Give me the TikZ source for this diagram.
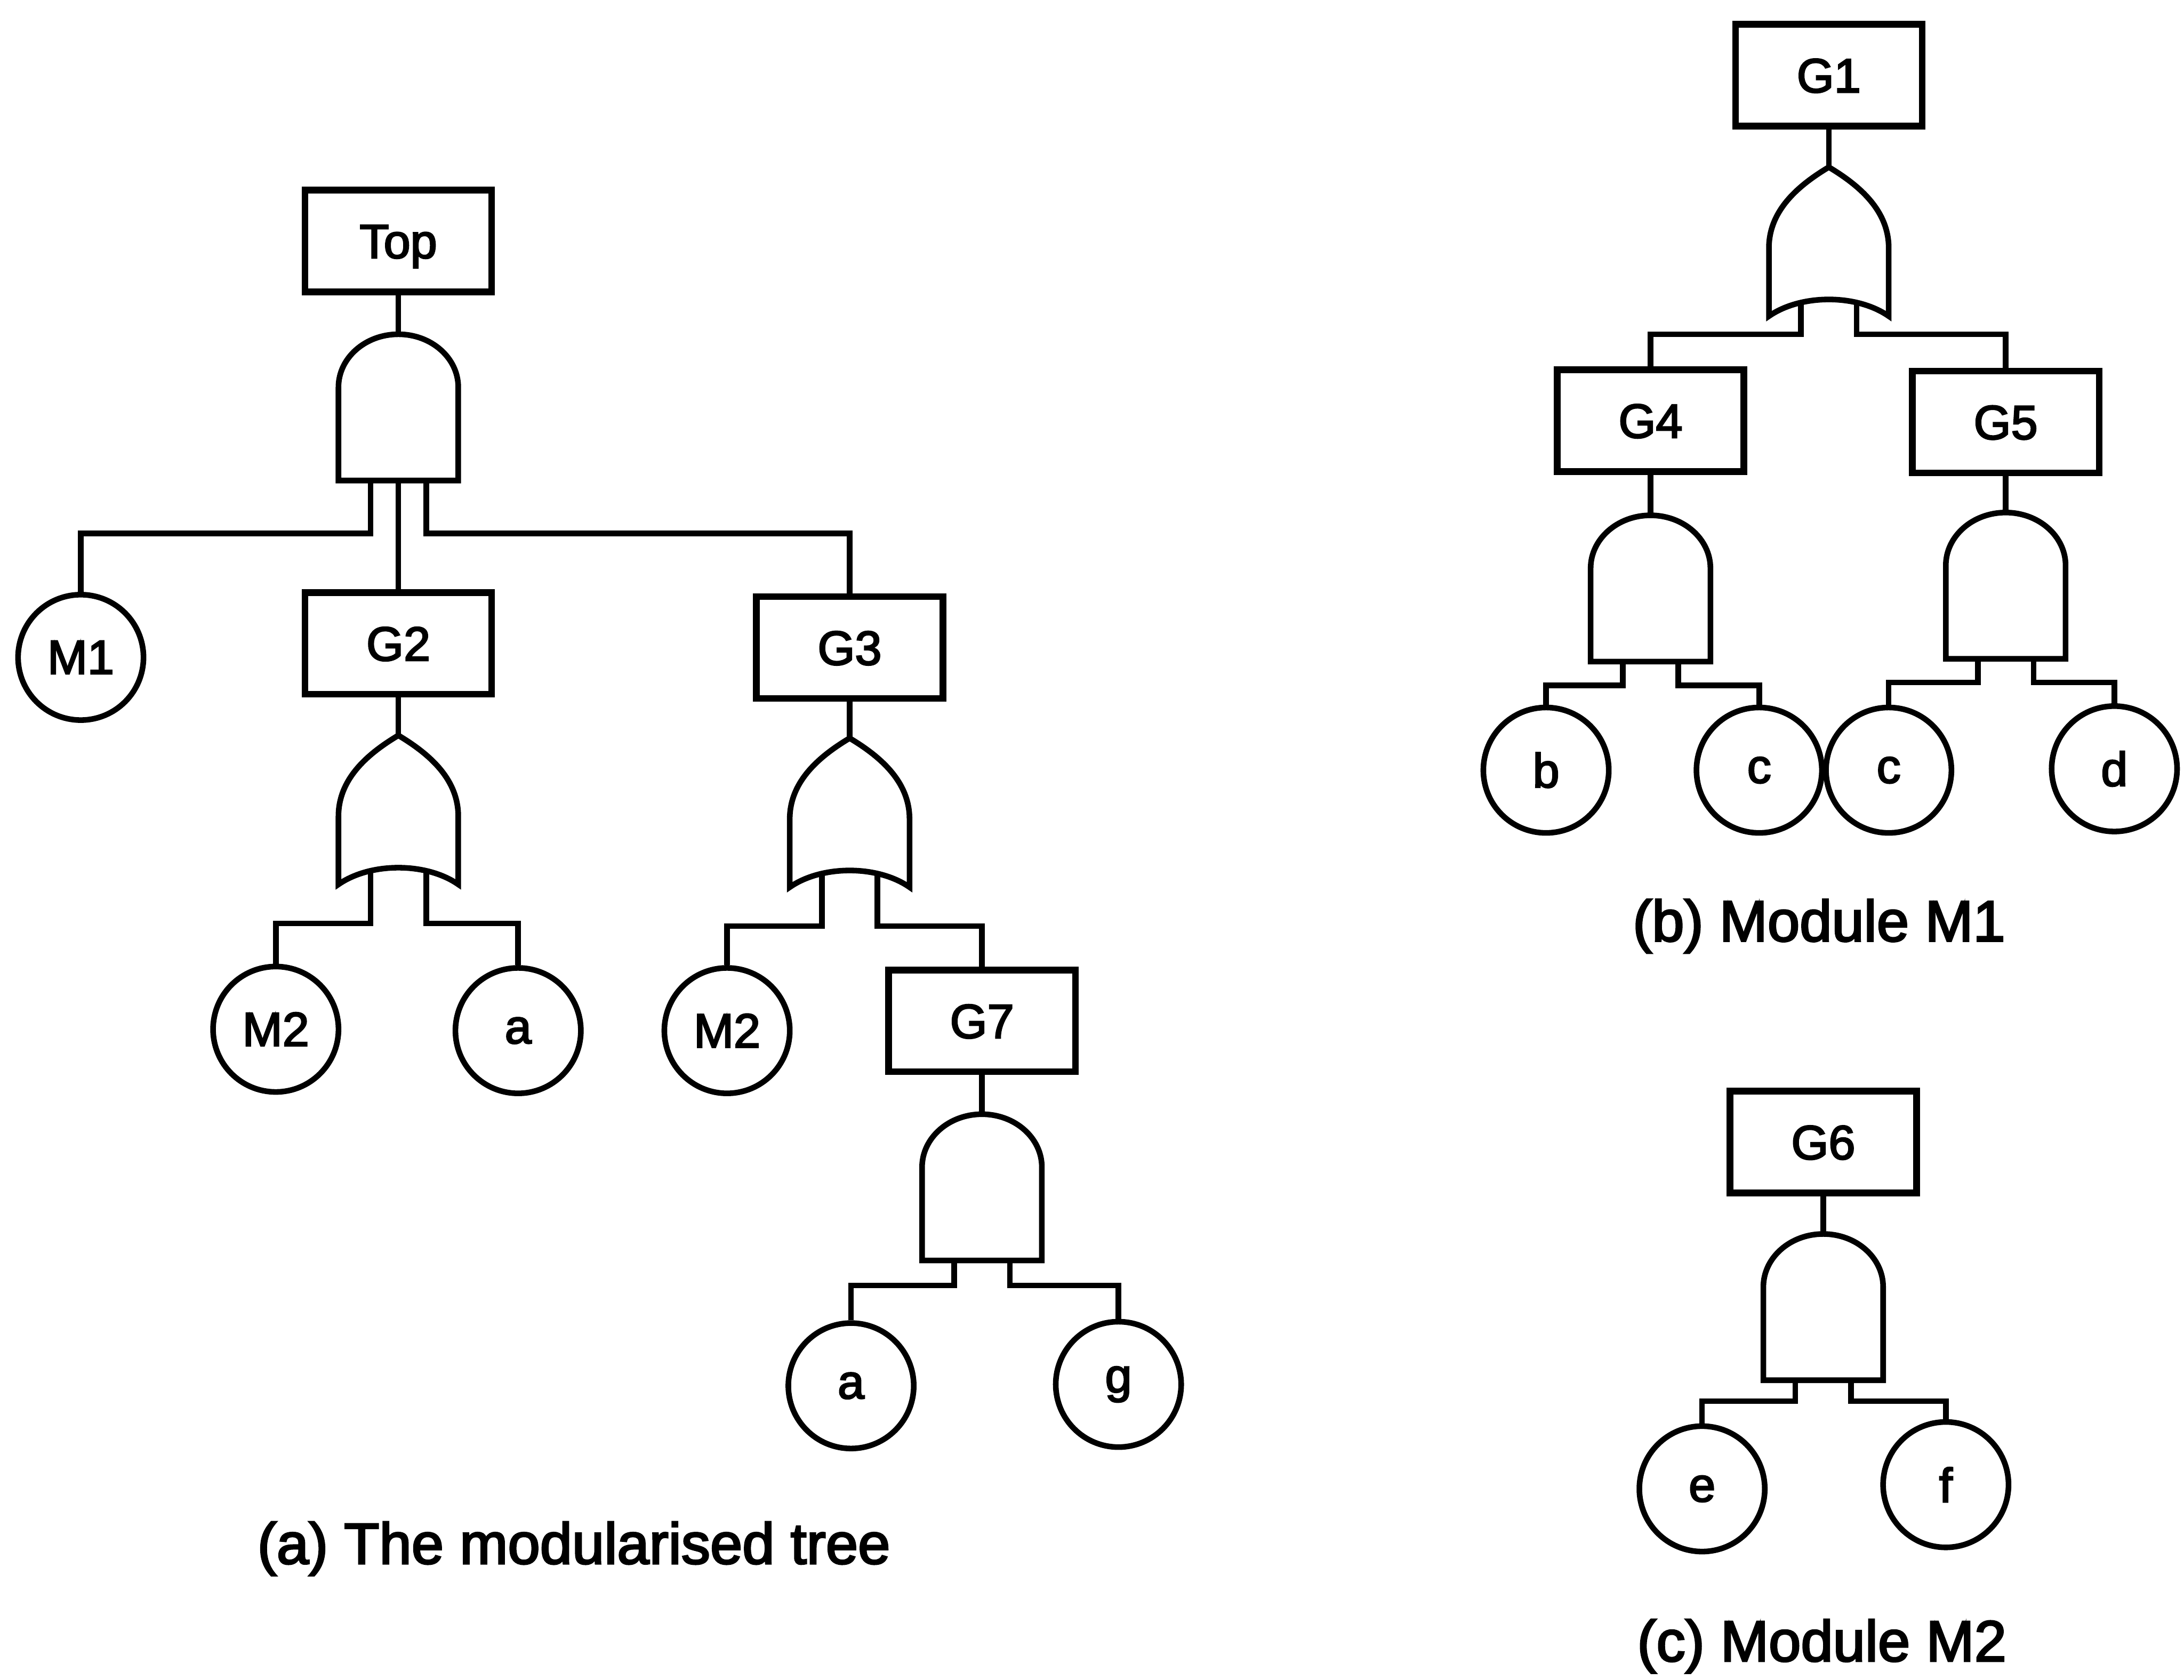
\documentclass[tikz,border=0pt]{standalone}
\usepackage{fontspec}
\setmainfont{Liberation Sans}
\newfontfamily\lblfont[FakeBold=3]{Liberation Sans}
\begin{document}
\begin{tikzpicture}[x=0.01cm,y=-0.01cm,
  wire/.style={line width=1.15pt},
  eventbox/.style={draw, rectangle, line width=1.35pt, minimum width=1.34cm,
    minimum height=0.73cm, inner sep=0pt, text height=7pt, text depth=0pt,
    font=\lblfont\fontsize{9.8}{11}\selectfont},
  basic/.style={draw, circle, line width=1.15pt, minimum size=0.9cm,
    inner sep=0pt, font=\lblfont\fontsize{9.8}{11}\selectfont},
  caption/.style={font=\lblfont\fontsize{11.8}{14}\selectfont},
  andgate/.pic={
    \draw[wire] (-43,105) -- (-43,38) .. controls (-43,17) and (-23.7,0) .. (0,0)
      .. controls (23.7,0) and (43,17) .. (43,38) -- (43,105) -- cycle;
    \coordinate (-in) at (0,0);
    \coordinate (-l) at (-20,105);
    \coordinate (-m) at (0,105);
    \coordinate (-r) at (20,105);
  },
  orgate/.pic={
    \draw[wire] (-43,107) -- (-43,58) .. controls (-43,30) and (-20,12) .. (0,0)
      .. controls (20,12) and (43,30) .. (43,58) -- (43,107)
      .. controls (20,91) and (-20,91) .. (-43,107) -- cycle;
    \coordinate (-in) at (0,0);
    \coordinate (-l) at (-20,97);
    \coordinate (-r) at (20,97);
  }
]
\useasboundingbox (0,0) rectangle (1568,1206);

% ---------- (a) the modularised tree ----------
\node[eventbox] (top) at (286,173) {Top};
\pic (gT) at (286,240) {andgate};
\node[basic] (m1) at (58,472) {M1};
\node[eventbox] (g2) at (286,462) {G2};
\node[eventbox] (g3) at (610,465) {G3};
\pic (o2) at (286,528) {orgate};
\node[basic] (m2a) at (198,739) {M2};
\node[basic] (a1) at (372,740) {a};
\pic (o3) at (610,530) {orgate};
\node[basic] (m2b) at (522,740) {M2};
\node[eventbox] (g7) at (705,733) {G7};
\pic (a7) at (705,800) {andgate};
\node[basic] (a2) at (611,995) {a};
\node[basic] (gg) at (803,994) {g};

\draw[wire] (top.south) -- (gT-in);
\draw[wire] (gT-l) -- ++(0,38) -| (m1.north);
\draw[wire] (gT-m) -- (g2.north);
\draw[wire] (gT-r) -- ++(0,38) -| (g3.north);
\draw[wire] (g2.south) -- (o2-in);
\draw[wire] (o2-l) -- ++(0,38) -| (m2a.north);
\draw[wire] (o2-r) -- ++(0,38) -| (a1.north);
\draw[wire] (g3.south) -- (o3-in);
\draw[wire] (o3-l) -- ++(0,38) -| (m2b.north);
\draw[wire] (o3-r) -- ++(0,38) -| (g7.north);
\draw[wire] (g7.south) -- (a7-in);
\draw[wire] (a7-l) -- ++(0,18) -| (a2.north);
\draw[wire] (a7-r) -- ++(0,18) -| (gg.north);

\node[caption] (capa) at (412,1112) {(a) The modularised tree};

% ---------- (b) module M1 ----------
\node[eventbox] (g1) at (1313,54) {G1};
\pic (o1) at (1313,120) {orgate};
\node[eventbox] (g4) at (1185,302) {G4};
\node[eventbox] (g5) at (1440,303) {G5};
\pic (a4) at (1185,370) {andgate};
\pic (a5) at (1440,368) {andgate};
\node[basic] (b) at (1110,553) {b};
\node[basic] (c1) at (1263,553) {c};
\node[basic] (c2) at (1356,553) {c};
\node[basic] (d) at (1518,552) {d};

\draw[wire] (g1.south) -- (o1-in);
\draw[wire] (o1-l) -- ++(0,23) -| (g4.north);
\draw[wire] (o1-r) -- ++(0,23) -| (g5.north);
\draw[wire] (g4.south) -- (a4-in);
\draw[wire] (g5.south) -- (a5-in);
\draw[wire] (a4-l) -- ++(0,17) -| (b.north);
\draw[wire] (a4-r) -- ++(0,17) -| (c1.north);
\draw[wire] (a5-l) -- ++(0,17) -| (c2.north);
\draw[wire] (a5-r) -- ++(0,17) -| (d.north);

\node[caption] (capb) at (1306,665) {(b) Module M1};

% ---------- (c) module M2 ----------
\node[eventbox] (g6) at (1309,820) {G6};
\pic (a6) at (1309,886) {andgate};
\node[basic] (e) at (1222,1069) {e};
\node[basic] (f) at (1397,1066) {f};

\draw[wire] (g6.south) -- (a6-in);
\draw[wire] (a6-l) -- ++(0,15) -| (e.north);
\draw[wire] (a6-r) -- ++(0,15) -| (f.north);

\node[caption] (capc) at (1308,1182) {(c) Module M2};
\end{tikzpicture}
\end{document}
